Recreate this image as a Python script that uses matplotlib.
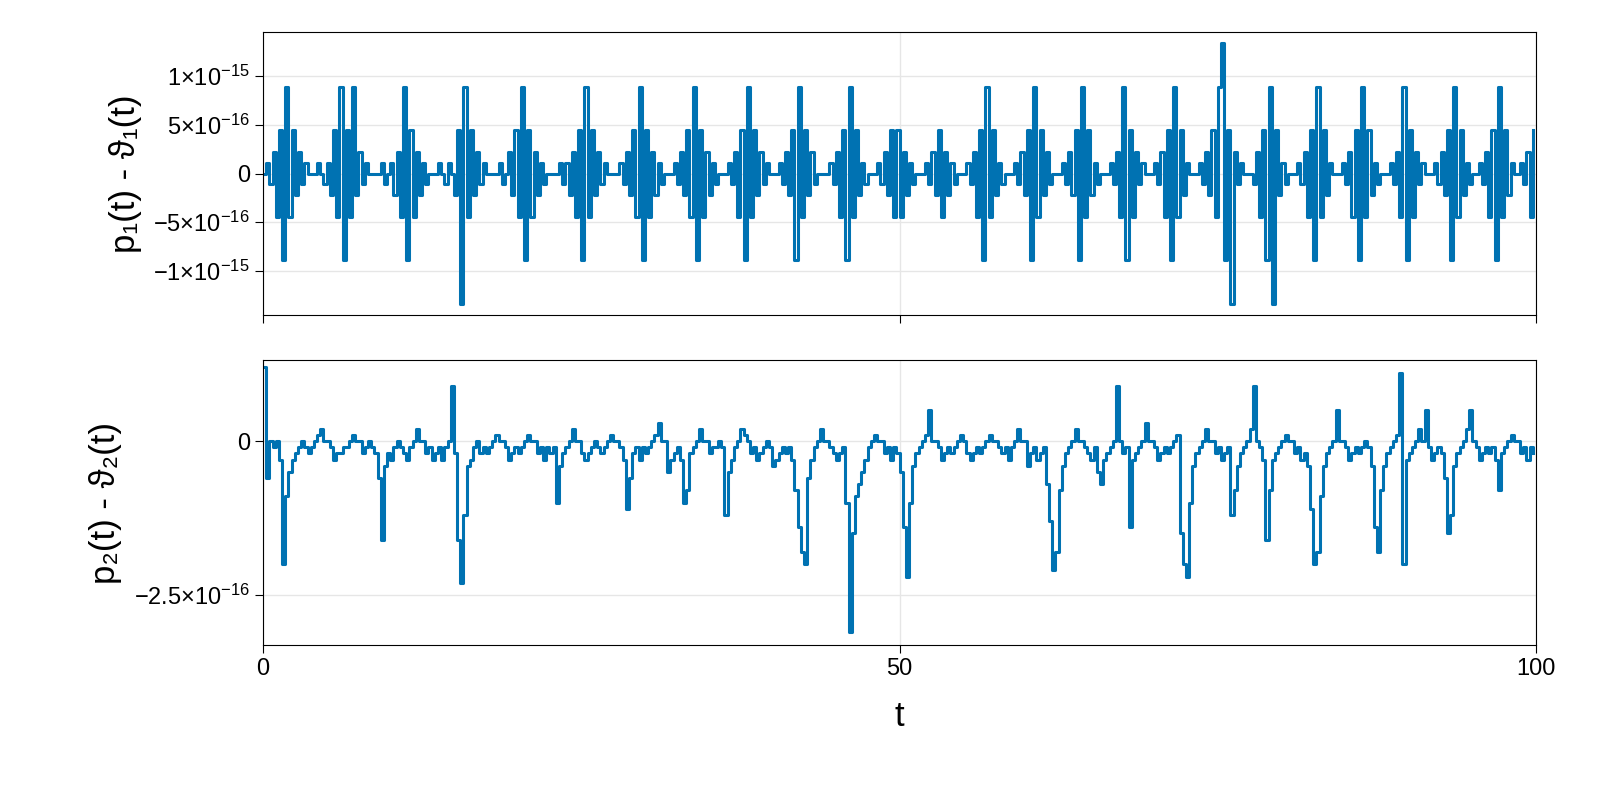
import numpy as np
import matplotlib
matplotlib.use("Agg")
import matplotlib.pyplot as plt

plt.rcParams['font.family'] = ['Liberation Sans', 'DejaVu Sans']
plt.rcParams['mathtext.fontset'] = 'custom'
plt.rcParams['mathtext.rm'] = 'Liberation Sans'
plt.rcParams['mathtext.it'] = 'Liberation Sans'

dt = 0.25
# top series in units of eps/2 (1.11e-16), one row per 5 t
p1_units = [
 0,1,-1,2,-4,4,-8,8,-4,4,-2,2,-1,1,0,0,0,1,0,-1,
 1,-2,4,-4,8,-8,4,-4,8,-2,2,-1,1,0,0,0,0,1,-1,0,
 1,-2,2,-4,8,-8,4,-4,2,-2,1,-1,0,0,0,1,0,-1,1,0,
 -2,4,-12,8,-4,4,-2,2,-1,1,0,0,0,0,1,-1,0,2,-2,4,
 -4,8,-8,4,-4,2,-2,1,-1,0,0,0,0,1,-1,1,-2,2,-4,4,
 -8,8,-4,4,-2,2,-1,1,0,0,0,0,1,-1,2,-2,4,-4,8,-8,
 4,-4,2,-2,1,-1,0,0,0,1,-1,2,-2,4,-4,8,-8,4,-4,2,
 -2,1,-1,0,0,0,1,-1,2,-4,4,-8,8,-4,4,-2,2,-1,1,0,
 0,0,1,-1,2,-2,4,-8,8,-4,4,-2,2,-1,0,0,0,0,1,-1,
 2,-4,4,-8,8,-4,4,-2,1,-1,0,0,0,1,-1,2,-2,4,-4,4,
 -4,2,-2,1,-1,0,0,0,1,-1,2,-2,4,-4,2,-2,1,-1,0,0,
 0,1,-1,2,-4,4,-8,8,-4,4,-2,1,-1,0,0,0,1,-1,2,-2,
 4,-8,8,-4,4,-2,2,-1,0,0,0,1,-1,2,-2,4,-8,8,-4,4,
 -2,1,-1,0,0,0,1,-1,2,-4,8,-8,4,-4,2,-1,1,0,0,0,
 1,-1,2,-4,4,-8,8,-4,4,-2,1,0,0,0,1,-1,2,-2,4,-4,
 8,12,-8,4,-12,2,-1,1,0,0,0,-1,2,-4,4,-8,8,-12,4,-2,
 1,-1,0,0,0,1,-1,2,-4,4,-8,8,-4,4,-2,1,0,0,0,1,
 -1,2,-4,4,-8,8,-4,4,-2,1,-1,0,0,0,1,-1,2,-4,8,-8,
 4,-4,2,-1,1,0,0,0,1,-1,2,-2,4,-8,8,-4,4,-2,1,-1,
 0,0,1,-1,2,-4,4,-8,8,-4,4,-2,1,0,0,1,-1,2,-4,4,
]
# bottom series in units of 1e-17
p2_units = [
 12,-6,0,-1,0,-3,-20,-9,-5,-3,-2,-1,0,-1,-2,-1,0,1,2,0,
 0,-1,-3,-2,-2,-1,-1,0,1,0,0,-2,-1,0,-1,-2,-6,-16,-4,-2,
 -3,-1,0,-1,-2,-3,-1,0,2,0,0,-2,-1,-3,-2,-1,-3,-1,0,9,
 -2,-16,-23,-12,-4,-3,-1,0,-2,-1,-2,-1,0,1,0,0,-1,-3,-2,-1,
 -2,-1,0,1,0,0,-2,-1,-3,-1,-2,-1,-10,-4,-2,-1,0,2,0,0,
 -2,-3,-2,-1,0,-1,-2,-1,0,1,0,0,-1,-3,-11,-6,-2,-1,-3,-1,
 -2,-1,0,1,3,0,0,-5,-3,-2,-1,-3,-10,-8,-2,-1,0,2,0,0,
 -2,-1,-1,0,-1,-12,-5,-3,-1,0,2,1,0,-2,-1,-3,-2,-1,0,-1,
 -4,-3,-2,-1,-2,-1,-3,-8,-14,-18,-20,-6,-3,-1,0,2,0,0,-1,-2,
 -3,-2,-1,-10,-31,-15,-9,-7,-5,-3,-1,0,1,0,0,-2,-1,-3,-1,-2,
 -5,-14,-22,-10,-4,-2,-1,0,1,5,0,0,-1,-3,-2,-1,-2,-1,0,1,
 0,-2,-3,-2,-1,-2,-1,0,1,0,0,-1,-2,-1,-3,-1,0,2,0,0,
 -4,-2,-1,-3,-2,-1,-7,-13,-21,-18,-8,-4,-2,-1,0,2,0,0,-1,-2,
 -3,-1,-5,-7,-3,-2,-1,0,9,0,-2,-1,-14,-3,-2,-1,0,3,0,0,
 -1,-3,-2,-1,-2,-1,0,1,-15,-20,-22,-10,-4,-2,-1,0,2,0,0,-2,
 -1,-3,-2,-1,-12,-8,-4,-2,-1,0,2,9,0,-1,-3,-16,-8,-3,-2,-1,
 0,1,0,0,-2,-1,-3,-2,-4,-11,-20,-18,-9,-4,-2,-1,0,5,0,0,
 -1,-3,-2,-1,-2,-1,0,-1,-4,-14,-18,-8,-4,-2,-1,0,1,11,-20,-3,
 -2,-1,0,2,0,5,-1,-3,-2,-1,-2,-6,-15,-12,-4,-2,-1,0,2,5,
 0,-1,-3,-2,-1,-2,-1,-3,-8,-2,-1,0,1,0,0,-2,-1,-3,-1,-2,
]

t = np.arange(len(p1_units)) * dt
p1 = np.array(p1_units) * 1.1102230246251565e-16
p2 = np.array(p2_units) * 1e-17

fig = plt.figure(figsize=(16, 8), dpi=100)
ax1 = fig.add_axes([263/1600, 1-315/800, 1273/1600, 283/800])
ax2 = fig.add_axes([263/1600, 1-645/800, 1273/1600, 285/800])
col = '#0072b2'
for ax, y in ((ax1, p1), (ax2, p2)):
    ax.step(t, y, where='post', color=col, lw=2.2)
    ax.set_xlim(0, 100)
    ax.set_xticks([0, 50, 100])
    ax.grid(True, color='#e6e6e6', lw=1)
    ax.set_axisbelow(True)
    ax.tick_params(labelsize=17, length=6, direction='out')
ax1.set_xticklabels([])
ax1.set_ylim(-1.45e-15, 1.45e-15)
ax1.set_yticks([-1e-15, -5e-16, 0, 5e-16, 1e-15])
ax1.set_yticklabels(['−1×10$^{-15}$', '−5×10$^{-16}$', '0', '5×10$^{-16}$', '1×10$^{-15}$'])
ax2.set_ylim(-3.31e-16, 1.315e-16)
ax2.set_yticks([-2.5e-16, 0])
ax2.set_yticklabels(['−2.5×10$^{-16}$', '0'])
ax1.set_ylabel('p₁(t) - ϑ₁(t)', fontsize=25, labelpad=8)
ax2.set_ylabel('p₂(t) - ϑ₂(t)', fontsize=25, labelpad=8)
ax2.set_xlabel('t', fontsize=25, labelpad=14)
fig.savefig('out.png', dpi=100)
